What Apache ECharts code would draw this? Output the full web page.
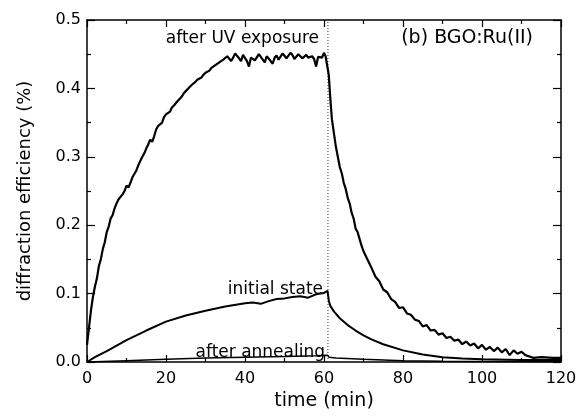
<!DOCTYPE html>
<html>
<head>
<meta charset="utf-8">
<script src="https://cdn.jsdelivr.net/npm/echarts@6/dist/echarts.min.js"></script>
<style>html,body{margin:0;padding:0;background:#fff}#c{width:584px;height:416px}</style>
</head>
<body>
<div id="c"></div>
<script>
var xTicks = [0, 20, 40, 60, 80, 100, 120];
var yTicks = [0.0, 0.1, 0.2, 0.3, 0.4, 0.5];
var switchTime = 61;

var uvExposure = [
  [0,0.025],[0.5,0.05],[1,0.075],[1.5,0.095],[2,0.11],[2.5,0.122],[3,0.14],[3.5,0.15],[4,0.165],[4.5,0.175],
  [5,0.19],[5.5,0.198],[6,0.21],[6.5,0.215],[7,0.225],[7.5,0.232],[8,0.238],[8.5,0.236],[9,0.245],[9.5,0.25],
  [10,0.258],[10.5,0.255],[11,0.262],[11.5,0.27],[12,0.272],[12.5,0.28],[13,0.288],[13.5,0.29],[14,0.30],[14.5,0.305],
  [15,0.312],[15.5,0.318],[16,0.325],[16.5,0.322],[17,0.33],[17.5,0.34],[18,0.345],[18.5,0.343],[19,0.35],[19.5,0.358],
  [20,0.362],[20.5,0.36],[21,0.366],[21.5,0.372],[22,0.375],[22.5,0.373],[23,0.382],[23.5,0.385],[24,0.388],[24.5,0.393],
  [25,0.396],[25.5,0.394],[26,0.402],[26.5,0.405],[27,0.404],[27.5,0.41],[28,0.413],[28.5,0.411],[29,0.416],[29.5,0.42],
  [30,0.423],[30.5,0.421],[31,0.426],[31.5,0.43],[32,0.43],[32.5,0.434],[33,0.434],[33.5,0.438],[34,0.438],[34.5,0.442],
  [35,0.443],[35.5,0.447],[36,0.448],[36.5,0.44],[37,0.445],[37.5,0.451],[38,0.452],[38.5,0.444],[39,0.44],[39.5,0.449],
  [40,0.448],[40.5,0.44],[41,0.432],[41.5,0.445],[42,0.447],[42.5,0.441],[43,0.443],[43.5,0.45],[44,0.449],[44.5,0.442],
  [45,0.438],[45.5,0.447],[46,0.446],[46.5,0.44],[47,0.436],[47.5,0.445],[48,0.448],[48.5,0.442],[49,0.443],[49.5,0.451],
  [50,0.45],[50.5,0.444],[51,0.446],[51.5,0.452],[52,0.449],[52.5,0.443],[53,0.445],[53.5,0.45],[54,0.447],[54.5,0.444],
  [55,0.446],[55.5,0.449],[56,0.445],[56.5,0.447],[57,0.447],[57.5,0.443],[58,0.432],[58.5,0.446],[59,0.448],[59.5,0.445],
  [60,0.452],[60.4,0.447],[60.8,0.446],[61.2,0.42],[61.6,0.385],[62,0.355],[62.5,0.335],[63,0.315],[63.5,0.30],[64,0.285],
  [64.5,0.276],[65,0.262],[65.5,0.253],[66,0.24],[66.5,0.232],[67,0.218],[67.5,0.21],[68,0.195],[68.5,0.19],[69,0.18],
  [69.5,0.17],[70,0.162],[71,0.150],[72,0.138],[73,0.125],[74,0.118],[75,0.106],[76,0.102],[77,0.092],[78,0.088],
  [79,0.079],[80,0.080],[81,0.071],[82,0.069],[83,0.062],[84,0.060],[85,0.052],[86,0.054],[87,0.046],[88,0.047],
  [89,0.040],[90,0.042],[91,0.035],[92,0.037],[93,0.031],[94,0.033],[95,0.026],[96,0.030],[97,0.024],[98,0.027],
  [99,0.020],[100,0.025],[101,0.018],[102,0.022],[103,0.016],[104,0.021],[105,0.014],[106,0.019],[107,0.010],[108,0.017],
  [109,0.012],[110,0.015],[111,0.010],[112,0.008],[113,0.006],[115,0.007],[118,0.006],[120,0.006]
];

var initialState = [
  [0,0],[2,0.007],[5,0.016],[10,0.032],[15,0.046],[20,0.059],[25,0.068],[30,0.075],[35,0.081],[40,0.086],
  [42,0.087],[44,0.085],[46,0.089],[48,0.092],[50,0.093],[52,0.095],[54,0.096],[56,0.094],[58,0.099],[60,0.101],
  [60.9,0.104],[61.2,0.09],[61.6,0.082],[62.5,0.074],[64,0.064],[66,0.054],[68,0.046],[70,0.039],[72,0.033],[75,0.026],
  [80,0.017],[85,0.011],[90,0.007],[95,0.005],[100,0.004],[110,0.003],[120,0.003]
];

var afterAnnealing = [
  [0,0],[10,0.002],[20,0.004],[30,0.006],[40,0.007],[50,0.008],[58,0.009],[60.9,0.010],[61.3,0.007],[63,0.006],
  [70,0.004],[80,0.002],[90,0.001],[120,0.0005]
];

var labels = ['after UV exposure', 'initial state', 'after annealing', '(b) BGO:Ru(II)'];

var FONT = 'DejaVu Sans';
var chart = echarts.init(document.getElementById('c'), null, {renderer: 'canvas'});

function xAxisCfg(pos, show) {
  return {
    type: 'value', min: 0, max: 120, interval: 20, position: pos,
    name: show ? 'time (min)' : '', nameLocation: 'middle', nameGap: 30,
    nameTextStyle: {fontFamily: FONT, fontSize: 19, color: '#000'},
    axisLine: {show: true, onZero: false, lineStyle: {color: '#000', width: 1.5}},
    axisTick: {show: true, inside: true, length: 7, lineStyle: {color: '#000', width: 1.2}},
    minorTick: {show: true, splitNumber: 2, length: 4, lineStyle: {color: '#000', width: 1.2}},
    axisLabel: {show: show, margin: 9, fontFamily: FONT, fontSize: 16, color: '#000'},
    splitLine: {show: false}, minorSplitLine: {show: false}
  };
}
function yAxisCfg(pos, show) {
  return {
    type: 'value', min: 0, max: 0.5, interval: 0.1, position: pos,
    name: show ? 'diffraction efficiency (%)' : '', nameLocation: 'middle', nameGap: 53,
    nameTextStyle: {fontFamily: FONT, fontSize: 18, color: '#000'},
    axisLine: {show: true, onZero: false, lineStyle: {color: '#000', width: 1.5}},
    axisTick: {show: true, inside: true, length: 8, lineStyle: {color: '#000', width: 1.2}},
    minorTick: {show: true, splitNumber: 2, length: 4, lineStyle: {color: '#000', width: 1.2}},
    axisLabel: {show: show, margin: 6, fontFamily: FONT, fontSize: 16, color: '#000',
      formatter: function (v) { return v.toFixed(1); }},
    splitLine: {show: false}, minorSplitLine: {show: false}
  };
}

chart.setOption({
  animation: false,
  backgroundColor: '#fff',
  grid: {left: 87, right: 23, top: 20, bottom: 47},
  xAxis: [xAxisCfg('bottom', true), xAxisCfg('top', false)],
  yAxis: [yAxisCfg('left', true), yAxisCfg('right', false)],
  series: [
    {type: 'line', data: [[switchTime, 0], [switchTime, 0.5]], symbol: 'none', silent: true,
      lineStyle: {color: '#333', width: 1, type: [1, 2]}, z: 1},
    {type: 'line', data: uvExposure, symbol: 'none', lineStyle: {color: '#000', width: 2.2}, z: 3},
    {type: 'line', data: initialState, symbol: 'none', lineStyle: {color: '#000', width: 2}, z: 3},
    {type: 'line', data: afterAnnealing, symbol: 'none', lineStyle: {color: '#000', width: 1.5}, z: 3}
  ],
  graphic: [
    {type: 'text', x: 319, y: 39, style: {text: labels[0], font: '17px "DejaVu Sans"', fill: '#000', textAlign: 'right', textVerticalAlign: 'middle'}},
    {type: 'text', x: 323, y: 290, style: {text: labels[1], font: '17px "DejaVu Sans"', fill: '#000', textAlign: 'right', textVerticalAlign: 'middle'}},
    {type: 'text', x: 325, y: 353, style: {text: labels[2], font: '17px "DejaVu Sans"', fill: '#000', textAlign: 'right', textVerticalAlign: 'middle'}},
    {type: 'text', x: 533, y: 38, style: {text: labels[3], font: '19px "DejaVu Sans"', fill: '#000', textAlign: 'right', textVerticalAlign: 'middle'}}
  ]
});
</script>
</body>
</html>
